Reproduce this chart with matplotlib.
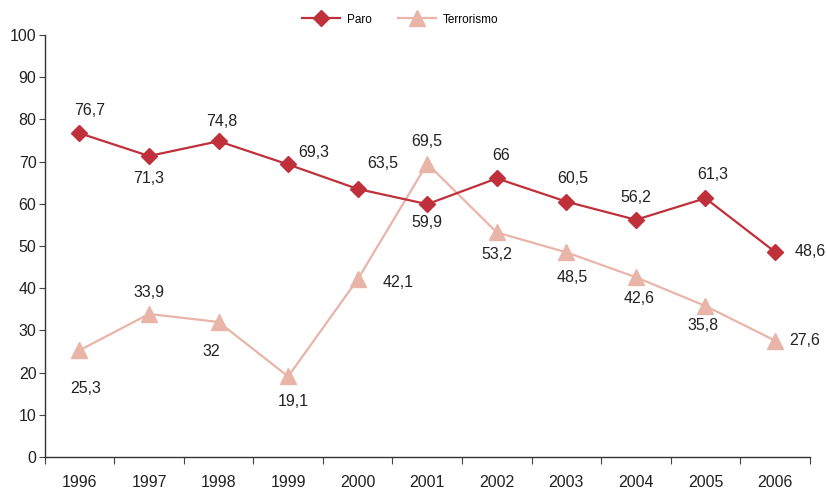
import matplotlib
matplotlib.use('Agg')
import matplotlib.pyplot as plt

plt.rcParams['font.family'] = ['Liberation Sans', 'DejaVu Sans']

# Datos
years = ['1996', '1997', '1998', '1999', '2000', '2001', '2002', '2003', '2004', '2005', '2006']
paro = [76.7, 71.3, 74.8, 69.3, 63.5, 59.9, 66, 60.5, 56.2, 61.3, 48.6]
terrorismo = [25.3, 33.9, 32, 19.1, 42.1, 69.5, 53.2, 48.5, 42.6, 35.8, 27.6]

# desplazamiento de etiquetas (pixeles)
paro_off = [(10, 23), (0, -22), (3, 20), (26, 12), (25, 25), (0, -18),
            (4, 23), (6, 23), (0, 22), (7, 24), (35, 0)]
terr_off = [(6, -38), (0, 21), (-7, -29), (5, -25), (40, -3), (0, 22),
            (0, -22), (6, -25), (3, -21), (-2, -20), (30, 0)]

c_paro = '#c0303a'
c_terr = '#e9b5a8'

fig = plt.figure(figsize=(8.28, 4.9), dpi=100)
ax = fig.add_axes([0.054, 0.067, 0.924, 0.862])

x = list(range(len(years)))
ax.plot(x, terrorismo, color=c_terr, lw=1.6, marker='^', ms=11, label='Terrorismo', zorder=2)
ax.plot(x, paro, color=c_paro, lw=1.6, marker='D', ms=8.5, label='Paro', zorder=3)

def fmt(v):
    s = ('%g' % v)
    return s.replace('.', ',')

for i in x:
    ax.annotate(fmt(paro[i]), (i, paro[i]), xytext=paro_off[i], textcoords='offset pixels',
                ha='center', va='center', fontsize=11.5, color='#222222')
    ax.annotate(fmt(terrorismo[i]), (i, terrorismo[i]), xytext=terr_off[i], textcoords='offset pixels',
                ha='center', va='center', fontsize=11.5, color='#222222')

ax.set_xlim(-0.5, len(years) - 0.5)
ax.set_ylim(0, 100)
ax.set_yticks(range(0, 101, 10))

# ticks en los limites entre categorias, etiquetas al centro
ax.set_xticks([i - 0.5 for i in range(len(years) + 1)])
ax.set_xticklabels([])
ax.set_xticks(x, minor=True)
ax.set_xticklabels(years, minor=True)
ax.tick_params(axis='x', which='minor', length=0, pad=13, labelsize=11.5, labelcolor='#222222')
ax.tick_params(axis='x', which='major', length=5, direction='out', color='#444444')
ax.tick_params(axis='y', length=4, direction='out', labelsize=11.5, labelcolor='#222222',
               color='#444444', pad=2)

for s in ['top', 'right']:
    ax.spines[s].set_visible(False)
for s in ['left', 'bottom']:
    ax.spines[s].set_color('#333333')
    ax.spines[s].set_linewidth(1.0)

handles, labels = ax.get_legend_handles_labels()
ax.legend(handles[::-1], labels[::-1], loc='center', bbox_to_anchor=(0.465, 1.036),
          ncol=2, frameon=False, fontsize=8.5, handlelength=3.2, columnspacing=2.2,
          handletextpad=0.6)

plt.savefig('out.png', dpi=100)
plt.close()
